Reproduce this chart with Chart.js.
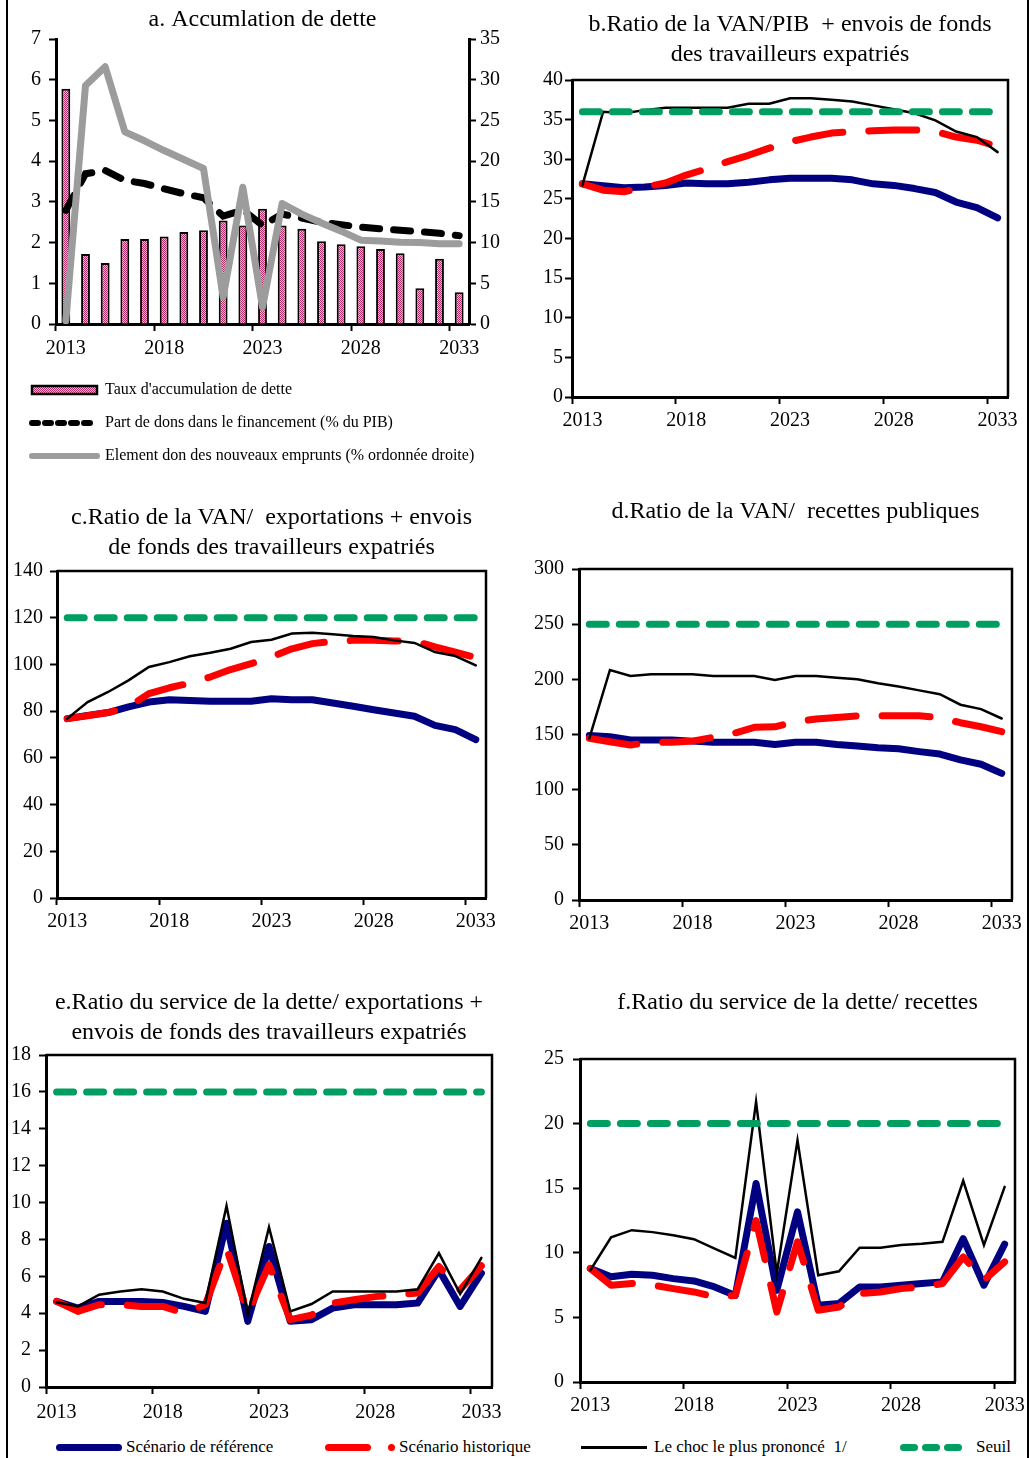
<!DOCTYPE html>
<html lang="fr">
<head>
<meta charset="utf-8">
<title>Indicateurs de la dette</title>
<script src="https://cdn.jsdelivr.net/npm/chart.js@4.4.1/dist/chart.umd.min.js"></script>
<style>
  html, body { margin: 0; padding: 0; background: #fff; overflow: hidden; }
  #page { position: relative; width: 1030px; height: 1458px; font-family: 'Liberation Serif', 'Times New Roman', serif; }
  #page canvas { position: absolute; }
  .frame { position: absolute; top: 0; width: 2px; height: 1458px; background: #000; }
  .leg { position: absolute; top: 1437px; font-size: 17px; line-height: 20px; white-space: pre; color: #000; }
  .sw { position: absolute; border-radius: 4px; }
</style>
</head>
<body>
<div id="page">
  <div class="frame" style="left:6px"></div>
  <div class="frame" style="left:1027px"></div>

  <canvas id="chartA" width="514" height="480" style="left:0;top:0"></canvas>
  <canvas id="chartB" width="515" height="440" style="left:515px;top:0"></canvas>
  <canvas id="chartC" width="515" height="480" style="left:0;top:480px"></canvas>
  <canvas id="chartD" width="515" height="480" style="left:515px;top:480px"></canvas>
  <canvas id="chartE" width="515" height="455" style="left:0;top:970px"></canvas>
  <canvas id="chartF" width="515" height="455" style="left:515px;top:970px"></canvas>

  <!-- legende commune -->
  <div class="sw" style="left:56px;top:1444px;width:66px;height:7px;background:#000080"></div>
  <div class="leg" style="left:126px">Scénario de référence</div>
  <div class="sw" style="left:325px;top:1444px;width:46px;height:7px;background:#ff0000"></div>
  <div class="sw" style="left:388px;top:1444px;width:7px;height:7px;background:#ff0000;border-radius:50%"></div>
  <div class="leg" style="left:399px">Scénario historique</div>
  <div class="sw" style="left:581px;top:1446px;width:66px;height:3px;background:#000;border-radius:0"></div>
  <div class="leg" style="left:654px">Le choc le plus prononcé  1/</div>
  <div class="sw" style="left:900px;top:1444px;width:18px;height:7px;background:#009e60"></div>
  <div class="sw" style="left:922px;top:1444px;width:18px;height:7px;background:#009e60"></div>
  <div class="sw" style="left:944px;top:1444px;width:18px;height:7px;background:#009e60"></div>
  <div class="leg" style="left:976px">Seuil</div>
</div>

<script>
// categories
var years = ['2013', '2014', '2015', '2016', '2017', '2018', '2019', '2020', '2021', '2022', '2023',
             '2024', '2025', '2026', '2027', '2028', '2029', '2030', '2031', '2032', '2033'];

// a. accumulation de dette
var tauxAccumulation = [5.78, 1.72, 1.50, 2.09, 2.09, 2.15, 2.26, 2.30, 2.54, 2.42, 2.83,
                        2.42, 2.34, 2.03, 1.96, 1.91, 1.84, 1.74, 0.88, 1.60, 0.78];
var partDons = [2.79, 3.69, 3.77, 3.53, 3.45, 3.32, 3.20, 3.10, 2.65, 2.80, 2.42,
                2.70, 2.60, 2.50, 2.44, 2.38, 2.34, 2.30, 2.27, 2.23, 2.17];
var elementDon = [0.4, 29.3, 31.6, 23.6, 22.5, 21.3, 20.2, 19.1, 3.3, 16.8, 2.05,
                  14.8, 13.5, 12.4, 11.4, 10.3, 10.2, 10.05, 10.0, 9.85, 9.85];

// b. VAN / PIB
var vanPibRef = [26.9, 26.65, 26.4, 26.5, 26.7, 27.0, 26.9, 26.9, 27.1, 27.4, 27.6,
                 27.6, 27.6, 27.4, 26.9, 26.7, 26.3, 25.8, 24.6, 23.9, 22.6];
var vanPibHist = [26.9, 26.1, 25.9, 26.5, 27.0, 28.0, 28.8, 29.7, 30.5, 31.4, 32.2,
                  32.8, 33.3, 33.5, 33.6, 33.7, 33.7, 33.5, 32.8, 32.4, 31.6];
var vanPibChoc = [26.7, 36.0, 35.8, 36.2, 36.5, 36.5, 36.5, 36.5, 37.0, 37.0, 37.7,
                  37.7, 37.5, 37.3, 36.8, 36.3, 35.8, 34.9, 33.5, 32.8, 30.9];
var vanPibSeuil = [36, 36, 36, 36, 36, 36, 36, 36, 36, 36, 36, 36, 36, 36, 36, 36, 36, 36, 36, 36, 36];

// c. VAN / exportations
var vanExpRef = [76.8, 78.2, 79.4, 81.8, 83.9, 84.9, 84.6, 84.2, 84.2, 84.2, 85.3,
                 84.9, 84.9, 83.5, 82.1, 80.6, 79.2, 77.8, 73.9, 72.1, 67.8];
var vanExpHist = [76.8, 78.0, 79.4, 81.8, 87.5, 90.0, 92.0, 94.6, 97.8, 100.3, 103.2,
                  106.7, 108.9, 109.9, 110.3, 110.3, 110.0, 110.0, 107.5, 105.3, 102.9];
var vanExpChoc = [76.8, 83.9, 88.2, 93.2, 98.9, 101.0, 103.5, 105.0, 106.7, 109.6, 110.6,
                  113.2, 113.6, 112.9, 112.2, 111.7, 110.3, 109.2, 105.3, 103.6, 99.6];
var vanExpSeuil = [120, 120, 120, 120, 120, 120, 120, 120, 120, 120, 120,
                   120, 120, 120, 120, 120, 120, 120, 120, 120, 120];

// d. VAN / recettes
var vanRecRef = [149, 148, 145, 145, 145, 144, 143, 143, 143, 141, 143,
                 143, 141, 139.6, 138, 137, 134.5, 132.3, 127, 123, 114.8];
var vanRecHist = [146.5, 143.5, 140.5, 143, 143, 144, 147.4, 151, 156.5, 157, 161.6,
                  164, 165.5, 166.8, 167, 167, 167, 165.3, 160.7, 157, 152.6];
var vanRecChoc = [146.5, 208.5, 203, 204.5, 204.5, 204.5, 203, 203, 203, 199.5, 203,
                  203, 201.5, 200, 196.5, 193.5, 190, 186.5, 177, 173, 164.5];
var vanRecSeuil = [250, 250, 250, 250, 250, 250, 250, 250, 250, 250, 250,
                   250, 250, 250, 250, 250, 250, 250, 250, 250, 250];

// e. service de la dette / exportations
var sdExpRef = [4.64, 4.28, 4.64, 4.64, 4.64, 4.58, 4.37, 4.10, 8.88, 3.56, 7.62,
                3.56, 3.65, 4.28, 4.46, 4.46, 4.46, 4.55, 6.35, 4.37, 6.17];
var sdExpHist = [4.64, 4.10, 4.46, 4.46, 4.37, 4.37, 4.00, 4.46, 7.53, 4.00, 6.62,
                 3.65, 3.90, 4.55, 4.73, 4.90, 5.00, 5.10, 6.53, 5.27, 6.57];
var sdExpChoc = [4.60, 4.37, 5.00, 5.18, 5.30, 5.18, 4.78, 4.55, 9.82, 3.92, 8.66,
                 4.10, 4.50, 5.18, 5.18, 5.18, 5.18, 5.30, 7.26, 5.05, 7.00];
var sdExpSeuil = [16, 16, 16, 16, 16, 16, 16, 16, 16, 16, 16, 16, 16, 16, 16, 16, 16, 16, 16, 16, 16];

// f. service de la dette / recettes
var sdRecRef = [8.78, 8.14, 8.34, 8.26, 8.00, 7.82, 7.36, 6.70, 15.37, 7.10, 13.17,
                5.94, 6.07, 7.36, 7.36, 7.49, 7.62, 7.75, 11.10, 7.49, 10.67];
var sdRecHist = [8.78, 7.49, 7.62, 7.50, 7.23, 6.97, 6.59, 6.70, 12.50, 5.42, 10.85,
                 5.55, 5.81, 6.84, 6.97, 7.23, 7.36, 7.62, 9.68, 7.88, 9.30];
var sdRecChoc = [8.65, 11.20, 11.75, 11.60, 11.36, 11.05, 10.33, 9.60, 21.70, 8.40, 18.70,
                 8.26, 8.57, 10.40, 10.40, 10.60, 10.70, 10.85, 15.57, 10.60, 15.10];
var sdRecSeuil = [20, 20, 20, 20, 20, 20, 20, 20, 20, 20, 20, 20, 20, 20, 20, 20, 20, 20, 20, 20, 20];

Chart.defaults.font.family = "'Liberation Serif', 'Times New Roman', serif";
Chart.defaults.color = '#000';
Chart.defaults.animation = false;

var NAVY = '#000080', RED = '#ff0000', GREEN = '#009e60', GREY = '#9c9c9c';

// hachure rose des barres
var hatch = document.createElement('canvas');
hatch.width = 2; hatch.height = 2;
var hctx = hatch.getContext('2d');
hctx.fillStyle = '#f0bcd4'; hctx.fillRect(0, 0, 2, 2);
hctx.fillStyle = '#b8286a'; hctx.fillRect(0, 0, 1, 1); hctx.fillRect(1, 1, 1, 1);
var barPattern = document.getElementById('chartA').getContext('2d').createPattern(hatch, 'repeat');

function fixWidth(w) { return function(scale) { scale.width = w; }; }
function fixHeight(h) { return function(scale) { scale.height = h; }; }

function xAxis(pad) {
  return {
    type: 'category',
    offset: true,
    grid: {
      offset: true, drawOnChartArea: false, tickLength: 7, tickWidth: 2,
      tickColor: function(ctx) { return ctx.index % 5 === 0 ? '#000' : 'rgba(0,0,0,0)'; }
    },
    border: { color: '#000', width: 3 },
    ticks: {
      autoSkip: false, maxRotation: 0, minRotation: 0, padding: pad, font: { size: 20 },
      callback: function(v, i) { return i % 5 === 0 ? years[i] : ''; }
    },
    afterFit: fixHeight(35)
  };
}

function yAxis(max, step, width, pad, position) {
  return {
    position: position || 'left',
    min: 0, max: max,
    grid: { drawOnChartArea: false, tickLength: 7, tickWidth: 2, tickColor: '#000' },
    border: { color: '#000', width: 3 },
    ticks: { stepSize: step, padding: pad, font: { size: 20 } },
    afterFit: fixWidth(width)
  };
}

// cadre haut et droit des graphiques b a f
var boxPlugin = {
  id: 'plotBox',
  afterDraw: function(chart) {
    var a = chart.chartArea, ctx = chart.ctx;
    ctx.save();
    ctx.strokeStyle = '#000';
    ctx.lineWidth = 2.5;
    ctx.beginPath();
    ctx.moveTo(a.left, a.top);
    ctx.lineTo(a.right, a.top);
    ctx.lineTo(a.right, a.bottom);
    ctx.stroke();
    ctx.restore();
  }
};

function lineSet(label, data, color, width, dash, join) {
  return {
    label: label, data: data,
    borderColor: color, backgroundColor: color, borderWidth: width,
    borderDash: dash || [], borderCapStyle: 'round', borderJoinStyle: join || 'round',
    pointRadius: 0, tension: 0, fill: false
  };
}

function titleOpts(text, gap) {
  return {
    display: true, text: text, fullSize: false, color: '#000',
    padding: { top: 0, bottom: gap },
    font: { size: 24, weight: 'normal', lineHeight: 30 / 24 }
  };
}

function ratioPanel(id, title, gap, pad, yMax, yStep, yWidth, yPad, xPad, ref, hist, choc, seuil) {
  return new Chart(document.getElementById(id), {
    type: 'line',
    data: {
      labels: years,
      datasets: [
        lineSet('Seuil', seuil, GREEN, 7, [17, 13]),
        lineSet('Le choc le plus prononcé 1/', choc, '#000', 2.5, null, 'miter'),
        lineSet('Scénario historique', hist, RED, 7, [48, 26]),
        lineSet('Scénario de référence', ref, NAVY, 7)
      ]
    },
    options: {
      responsive: false,
      events: [],
      layout: { padding: pad },
      plugins: {
        legend: { display: false },
        tooltip: { enabled: false },
        title: titleOpts(title, gap)
      },
      scales: { x: xAxis(xPad), y: yAxis(yMax, yStep, yWidth, yPad) }
    },
    plugins: [boxPlugin]
  });
}

// a. Accumulation de dette
new Chart(document.getElementById('chartA'), {
  type: 'bar',
  data: {
    labels: years,
    datasets: [
      { type: 'line', label: 'Element don des nouveaux emprunts (% ordonnée droite)', data: elementDon,
        yAxisID: 'y1', borderColor: GREY, backgroundColor: GREY, borderWidth: 7,
        borderCapStyle: 'round', borderJoinStyle: 'round', pointRadius: 0, tension: 0, order: 0 },
      { type: 'line', label: 'Part de dons dans le financement (% du PIB)', data: partDons,
        yAxisID: 'y', borderColor: '#000', backgroundColor: '#000', borderWidth: 7,
        borderDash: [17, 14], borderCapStyle: 'round', pointRadius: 0, tension: 0, order: 1 },
      { type: 'bar', label: "Taux d'accumulation de dette", data: tauxAccumulation,
        yAxisID: 'y', backgroundColor: barPattern, borderColor: '#000', borderWidth: 2,
        barPercentage: 0.45, categoryPercentage: 1, order: 2 }
    ]
  },
  options: {
    responsive: false,
    events: [],
    layout: { padding: { left: 15, top: 5, right: 0, bottom: 6 } },
    plugins: {
      tooltip: { enabled: false },
      title: titleOpts('a. Accumlation de dette', 4),
      legend: {
        position: 'bottom', align: 'start',
        labels: {
          font: { size: 16 }, color: '#000', padding: 17,
          usePointStyle: true, pointStyleWidth: 65, boxHeight: 8,
          generateLabels: function() {
            return [
              { text: "Taux d'accumulation de dette", fillStyle: barPattern, strokeStyle: '#000',
                lineWidth: 2.5, pointStyle: 'rect', fontColor: '#000', hidden: false, datasetIndex: 2 },
              { text: 'Part de dons dans le financement (% du PIB)', fillStyle: '#000', strokeStyle: '#000',
                lineWidth: 6, lineDash: [6, 7], lineCap: 'round', pointStyle: 'line',
                fontColor: '#000', hidden: false, datasetIndex: 1 },
              { text: 'Element don des nouveaux emprunts (% ordonnée droite)', fillStyle: GREY,
                strokeStyle: GREY, lineWidth: 6, lineCap: 'round', pointStyle: 'line',
                fontColor: '#000', hidden: false, datasetIndex: 0 }
            ];
          }
        }
      }
    },
    scales: {
      x: Object.assign(xAxis(6), { afterFit: fixHeight(41) }),
      y: yAxis(7, 1, 41, 8),
      y1: yAxis(35, 5, 45, 4, 'right')
    }
  }
});

ratioPanel('chartB', ['b.Ratio de la VAN/PIB  + envois de fonds', 'des travailleurs expatriés'], 10,
  { left: 0, top: 10, right: 22, bottom: 8 }, 40, 5, 57, 2, 5,
  vanPibRef, vanPibHist, vanPibChoc, vanPibSeuil);

ratioPanel('chartC', ['c.Ratio de la VAN/  exportations + envois', 'de fonds des travailleurs expatriés'], 8,
  { left: 0, top: 23, right: 29, bottom: 27 }, 140, 20, 57, 7, 5,
  vanExpRef, vanExpHist, vanExpChoc, vanExpSeuil);

ratioPanel('chartD', 'd.Ratio de la VAN/  recettes publiques', 42,
  { left: 0, top: 17, right: 18, bottom: 25 }, 300, 50, 64, 8, 5,
  vanRecRef, vanRecHist, vanRecChoc, vanRecSeuil);

ratioPanel('chartE', ['e.Ratio du service de la dette/ exportations +', 'envois de fonds des travailleurs expatriés'], 7,
  { left: 0, top: 18, right: 23, bottom: 3 }, 18, 2, 46, 8, 7,
  sdExpRef, sdExpHist, sdExpChoc, sdExpSeuil);

ratioPanel('chartF', 'f.Ratio du service de la dette/ recettes', 41,
  { left: 0, top: 18, right: 10, bottom: 8 }, 25, 5, 65, 9, 5,
  sdRecRef, sdRecHist, sdRecChoc, sdRecSeuil);
</script>
</body>
</html>
